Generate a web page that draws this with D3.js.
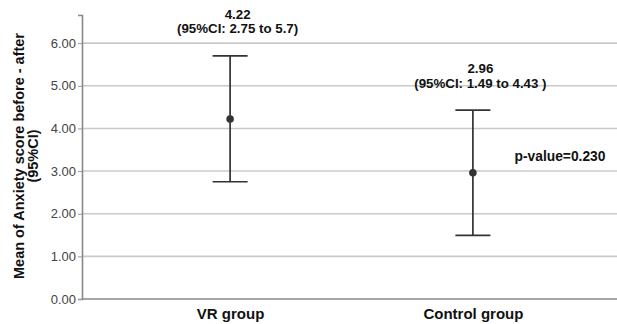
<!DOCTYPE html>
<html>
<head>
<meta charset="utf-8">
<script src="https://cdn.jsdelivr.net/npm/d3@7"></script>
<style>
  body { margin: 0; background: #fff; }
  svg text { font-family: "Liberation Sans", Arial, sans-serif; }
</style>
</head>
<body>
<div id="chart"></div>
<script>

var groups = ["VR group", "Control group"];
var means = [4.22, 2.96];
var lowerCI = [2.75, 1.49];
var upperCI = [5.7, 4.43];
var ciLabels = ["(95%CI: 2.75 to 5.7)", "(95%CI: 1.49 to 4.43 )"];
var yTicks = [0, 1, 2, 3, 4, 5, 6];
var pValueText = "p-value=0.230";

var data = groups.map(function(g, i) {
  return { group: g, mean: means[i], lo: lowerCI[i], hi: upperCI[i], ci: ciLabels[i] };
});

var margin = { top: 15, right: 0, bottom: 25, left: 82 };
var width = 617 - margin.left - margin.right;
var height = 324 - margin.top - margin.bottom;

var svg = d3.select("#chart").append("svg")
  .attr("width", 617)
  .attr("height", 324);

var g = svg.append("g")
  .attr("transform", "translate(" + margin.left + "," + margin.top + ")");

var x = d3.scalePoint()
  .domain(groups)
  .range([0, 539])
  .padding(0.61);

var y = d3.scaleLinear()
  .domain([0, 6.66])
  .range([height, 0]);

// gridlines
g.selectAll("line.grid")
  .data(yTicks.filter(function(d) { return d > 0; }))
  .enter()
  .append("line")
  .attr("class", "grid")
  .attr("x1", 0)
  .attr("x2", width)
  .attr("y1", function(d) { return y(d); })
  .attr("y2", function(d) { return y(d); })
  .attr("stroke", "#cacaca")
  .attr("stroke-width", 1.6);

// y axis
var yAxis = d3.axisLeft(y).tickValues(yTicks).tickFormat(d3.format(".2f")).tickSize(4).tickPadding(2);
var yG = g.append("g").call(yAxis);
yG.select(".domain").attr("stroke", "#888").attr("stroke-width", 1.6);
yG.selectAll(".tick line").attr("stroke", "#999").attr("stroke-width", 1);
yG.selectAll(".tick text")
  .attr("fill", "#444")
  .style("font-size", "13px");

// x axis
var xAxis = d3.axisBottom(x).tickSize(0).tickPadding(9);
var xG = g.append("g")
  .attr("transform", "translate(0," + height + ")")
  .call(xAxis);
xG.select(".domain").attr("d", "M0,0H" + width).attr("stroke", "#888").attr("stroke-width", 1.6);
xG.selectAll(".tick text")
  .attr("fill", "#111")
  .style("font-size", "15px")
  .style("font-weight", "bold");

// error bars
var capHalf = 17.5;
var bars = g.selectAll("g.bar")
  .data(data)
  .enter()
  .append("g")
  .attr("class", "bar");

bars.append("line")
  .attr("x1", function(d) { return x(d.group); })
  .attr("x2", function(d) { return x(d.group); })
  .attr("y1", function(d) { return y(d.lo); })
  .attr("y2", function(d) { return y(d.hi); })
  .attr("stroke", "#333")
  .attr("stroke-width", 1.7);

bars.append("line")
  .attr("x1", function(d) { return x(d.group) - capHalf; })
  .attr("x2", function(d) { return x(d.group) + capHalf; })
  .attr("y1", function(d) { return y(d.hi); })
  .attr("y2", function(d) { return y(d.hi); })
  .attr("stroke", "#333")
  .attr("stroke-width", 1.7);

bars.append("line")
  .attr("x1", function(d) { return x(d.group) - capHalf; })
  .attr("x2", function(d) { return x(d.group) + capHalf; })
  .attr("y1", function(d) { return y(d.lo); })
  .attr("y2", function(d) { return y(d.lo); })
  .attr("stroke", "#333")
  .attr("stroke-width", 1.7);

bars.append("circle")
  .attr("cx", function(d) { return x(d.group); })
  .attr("cy", function(d) { return y(d.mean); })
  .attr("r", 3.8)
  .attr("fill", "#333");

// mean + CI labels
var labels = bars.append("text")
  .attr("text-anchor", "middle")
  .attr("fill", "#111")
  .style("font-size", "13.3px")
  .style("font-weight", "bold");

labels.append("tspan")
  .attr("x", function(d) { return x(d.group) + 7.5; })
  .attr("y", function(d) { return y(d.hi) - 37; })
  .text(function(d) { return d.mean.toFixed(2); });

labels.append("tspan")
  .attr("x", function(d) { return x(d.group) + 7.5; })
  .attr("y", function(d) { return y(d.hi) - 22.5; })
  .text(function(d) { return d.ci; });

// p-value
g.append("text")
  .attr("x", 560 - margin.left)
  .attr("y", 161 - margin.top)
  .attr("text-anchor", "middle")
  .attr("fill", "#111")
  .style("font-size", "13.8px")
  .style("font-weight", "bold")
  .text(pValueText);

// y axis title
var title = svg.append("text")
  .attr("transform", "translate(0,156) rotate(-90)")
  .attr("text-anchor", "middle")
  .attr("fill", "#111")
  .style("font-size", "14.5px")
  .style("font-weight", "bold");

title.append("tspan").attr("x", 0).attr("y", 24).text("Mean of Anxiety score before - after");
title.append("tspan").attr("x", 0).attr("y", 38).text("(95%CI)");

</script>
</body>
</html>
